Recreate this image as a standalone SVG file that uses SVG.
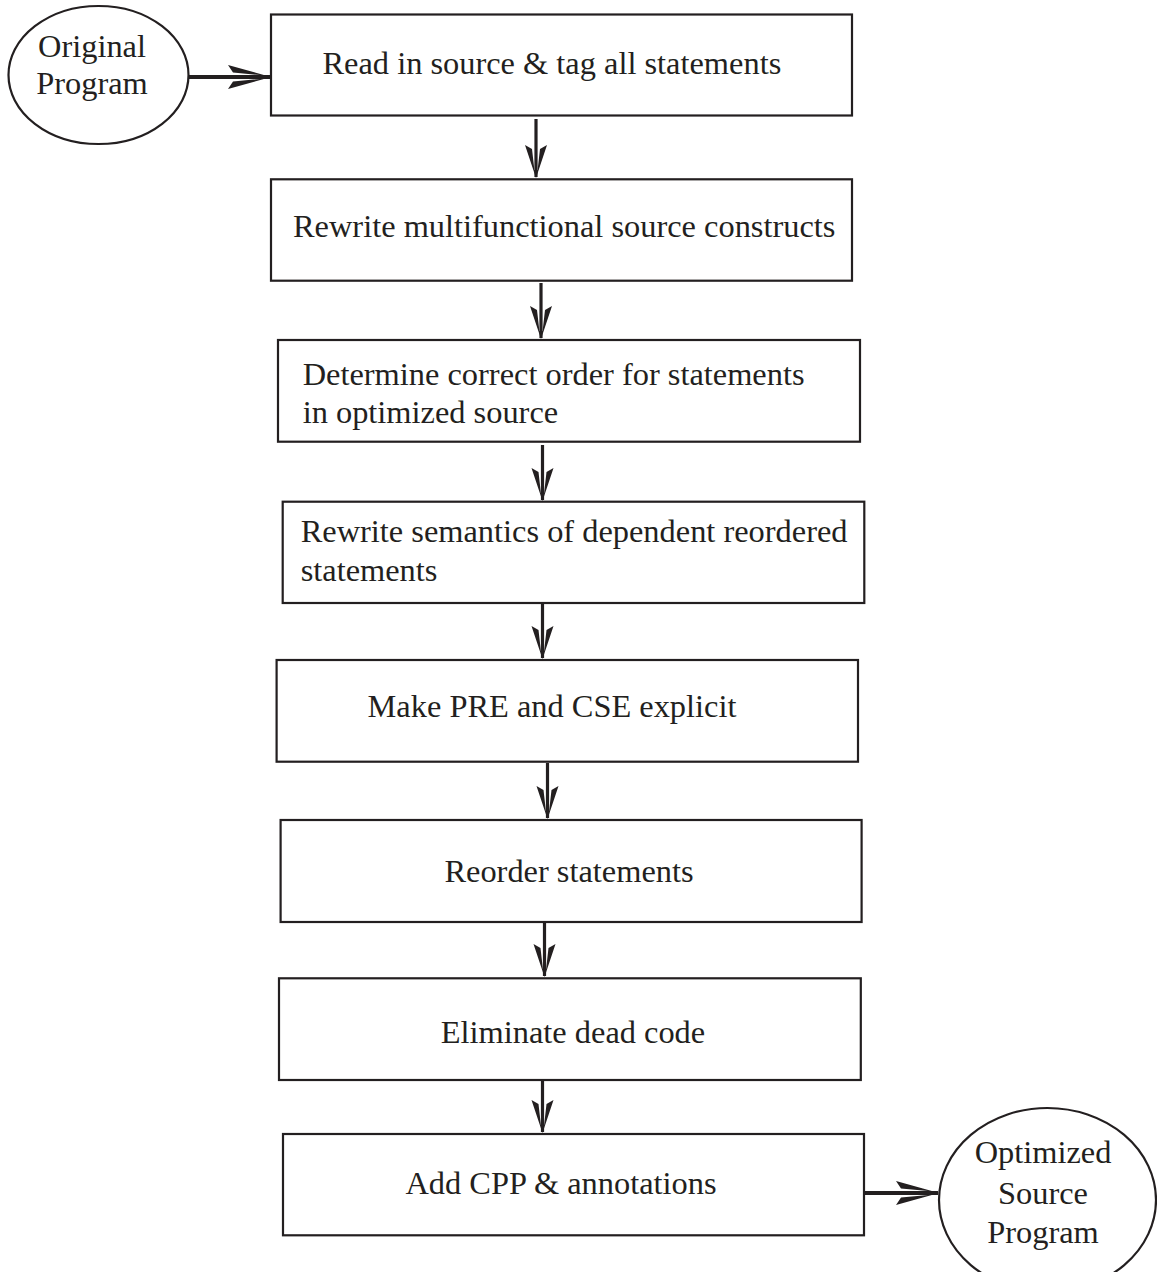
<svg xmlns="http://www.w3.org/2000/svg" width="1157" height="1272" viewBox="0 0 1157 1272">
<style>
.box{fill:#fff;stroke:#231f20;stroke-width:2.2}
.ell{fill:#fff;stroke:#231f20;stroke-width:2.2}
.t{font-family:"Liberation Serif","Times New Roman",serif;font-size:32.4px;fill:#231f20}
.m{text-anchor:middle}
.v{stroke:#231f20;stroke-width:3.2;fill:none}
.h{stroke:#231f20;stroke-width:4;fill:none}
</style>
<defs>
<marker id="av" markerUnits="userSpaceOnUse" orient="auto" refX="0" refY="0" markerWidth="1" markerHeight="1" overflow="visible">
<path d="M1,0 L-32,-11 L-28,-4 L-7,-1.6 L-7,1.6 L-28,4 L-32,11 Z" fill="#231f20"/>
</marker>
<marker id="ah" markerUnits="userSpaceOnUse" orient="auto" refX="0" refY="0" markerWidth="1" markerHeight="1" overflow="visible">
<path d="M1,0 L-42,-12 L-37,-4.5 L-10,-2 L-10,2 L-37,4.5 L-42,12 Z" fill="#231f20"/>
</marker>
</defs>
<rect width="1157" height="1272" fill="#fff"/>

<g id="connectors">
<line class="h" x1="189" y1="77" x2="270" y2="77" marker-end="url(#ah)"/>
<line class="v" x1="536" y1="119" x2="536" y2="177" marker-end="url(#av)"/>
<line class="v" x1="541" y1="283" x2="541" y2="338" marker-end="url(#av)"/>
<line class="v" x1="542.5" y1="445" x2="542.5" y2="500" marker-end="url(#av)"/>
<line class="v" x1="542.5" y1="603" x2="542.5" y2="658" marker-end="url(#av)"/>
<line class="v" x1="547.5" y1="763" x2="547.5" y2="818" marker-end="url(#av)"/>
<line class="v" x1="544.5" y1="922" x2="544.5" y2="976" marker-end="url(#av)"/>
<line class="v" x1="542.5" y1="1078" x2="542.5" y2="1132" marker-end="url(#av)"/>
<line class="h" x1="864" y1="1193" x2="938" y2="1193" marker-end="url(#ah)"/>
</g>

<g id="original-program">
<ellipse class="ell" cx="98.5" cy="75" rx="90" ry="69"/>
<text class="t m" x="92" y="57">Original</text>
<text class="t m" x="92" y="94">Program</text>
</g>

<g id="step1">
<rect class="box" x="271" y="14.5" width="581" height="101"/>
<text class="t" x="322.5" y="74">Read in source &amp; tag all statements</text>
</g>

<g id="step2">
<rect class="box" x="271" y="179.3" width="581" height="101.4"/>
<text class="t" x="293" y="236.7">Rewrite multifunctional source constructs</text>
</g>

<g id="step3">
<rect class="box" x="278" y="340" width="582" height="101.7"/>
<text class="t" x="302.7" y="385">Determine correct order for statements</text>
<text class="t" x="302.7" y="423">in optimized source</text>
</g>

<g id="step4">
<rect class="box" x="282.7" y="501.7" width="581.6" height="101.3"/>
<text class="t" x="300.7" y="541.7">Rewrite semantics of dependent reordered</text>
<text class="t" x="300.7" y="580.7">statements</text>
</g>

<g id="step5">
<rect class="box" x="276.6" y="660" width="581.4" height="101.7"/>
<text class="t m" x="552" y="717.3">Make PRE and CSE explicit</text>
</g>

<g id="step6">
<rect class="box" x="280.6" y="820" width="581" height="102"/>
<text class="t m" x="569" y="881.7">Reorder statements</text>
</g>

<g id="step7">
<rect class="box" x="279" y="978.3" width="581.8" height="101.7"/>
<text class="t m" x="573" y="1042.7">Eliminate dead code</text>
</g>

<g id="step8">
<rect class="box" x="283" y="1134" width="581" height="101.3"/>
<text class="t m" x="561" y="1194">Add CPP &amp; annotations</text>
</g>

<g id="optimized-program">
<ellipse class="ell" cx="1047.5" cy="1200" rx="108.5" ry="92"/>
<text class="t m" x="1043" y="1163">Optimized</text>
<text class="t m" x="1043" y="1204">Source</text>
<text class="t m" x="1043" y="1243">Program</text>
</g>
</svg>
